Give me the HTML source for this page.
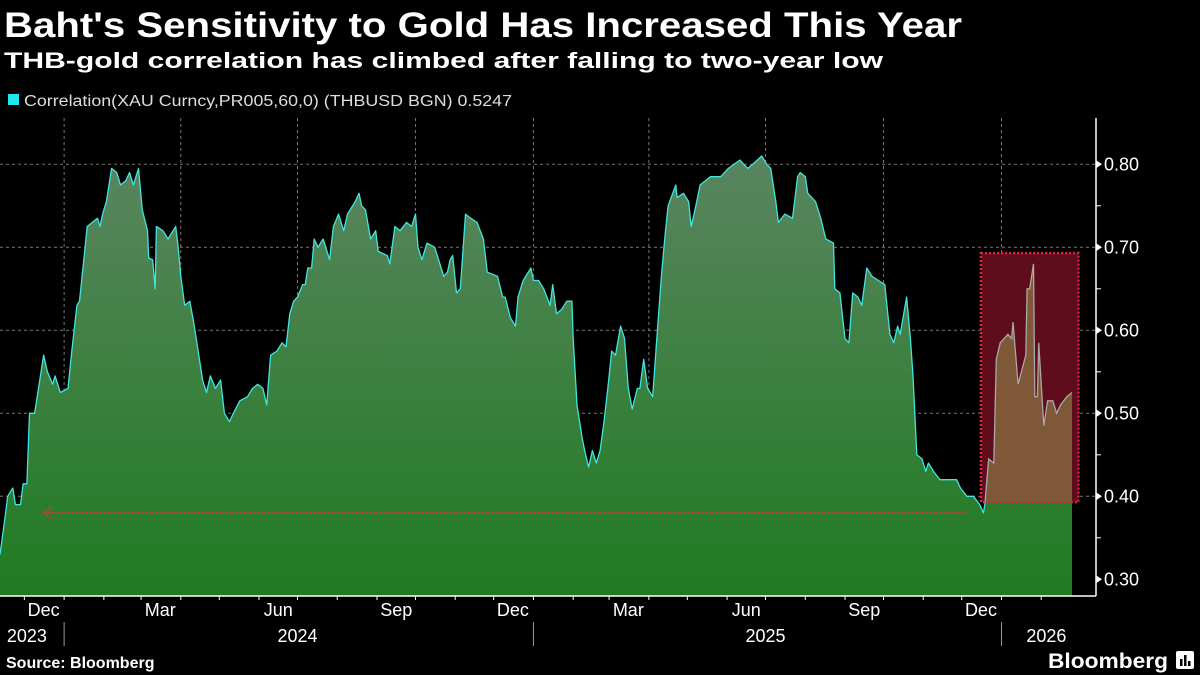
<!DOCTYPE html>
<html><head><meta charset="utf-8">
<style>
html,body{margin:0;padding:0;background:#000;}
svg{display:block;font-family:"Liberation Sans",sans-serif;}
</style></head>
<body>
<svg id="chart" width="1200" height="675" viewBox="0 0 1200 675">
<defs>
<linearGradient id="gfill" x1="0" y1="155" x2="0" y2="595" gradientUnits="userSpaceOnUse">
<stop offset="0" stop-color="#5a8560"/><stop offset="1" stop-color="#1f7b21"/>
</linearGradient>
<clipPath id="boxclip"><rect x="981" y="0" width="97" height="502"/></clipPath>
</defs>
<text x="4" y="37" fill="#fff" font-size="35" font-weight="bold" textLength="958" lengthAdjust="spacingAndGlyphs">Baht's Sensitivity to Gold Has Increased This Year</text>
<text x="4" y="68" fill="#fff" font-size="22" font-weight="bold" textLength="879" lengthAdjust="spacingAndGlyphs">THB-gold correlation has climbed after falling to two-year low</text>
<g>
<rect x="8" y="94" width="11" height="11" fill="#1de8ee"/>
<text x="24" y="106" fill="#ddd" font-size="15.5" textLength="488" lengthAdjust="spacingAndGlyphs">Correlation(XAU Curncy,PR005,60,0) (THBUSD BGN) 0.5247</text>
</g>
<g id="grid"></g>
<g id="plot"></g>
<g id="axes"></g>
<text x="6" y="668" fill="#fff" font-size="16" font-weight="bold">Source: Bloomberg</text>
<text x="1048" y="668" fill="#fff" font-size="21" font-weight="bold" textLength="120" lengthAdjust="spacingAndGlyphs">Bloomberg</text>
<g>
<rect x="1176" y="651" width="18" height="18" rx="2" fill="#fff"/>
<rect x="1180" y="659" width="2.5" height="7" fill="#000"/><rect x="1184" y="655" width="2.5" height="11" fill="#000"/><rect x="1188" y="661" width="2.5" height="5" fill="#000"/>
</g>
</svg>
<script>
// days since 2023-11-12
const days = [0,4,6,10,12,16,18,21,23,27,30,34,37,41,43,47,53,56,60,62,68,72,76,78,80,83,87,91,94,98,101,104,108,111,115,116,119,121,122,127,131,137,139,141,144,148,151,154,158,161,164,168,172,175,179,182,187,193,197,201,205,208,211,216,220,223,226,229,232,236,238,240,243,245,248,252,257,260,264,268,271,277,280,282,285,289,293,295,302,304,308,312,317,321,324,326,329,333,339,346,349,351,353,356,359,363,367,372,377,380,388,392,394,398,402,404,408,414,416,420,424,429,431,434,438,442,446,447,450,454,456,459,462,465,468,471,474,477,480,484,487,490,493,497,499,502,505,509,512,516,519,521,527,528,533,537,539,542,546,554,562,568,577,583,587,594,598,601,605,607,612,618,622,624,628,630,636,640,644,650,651,655,659,662,665,669,672,676,680,685,690,694,697,700,702,707,710,712,715,719,722,724,728,733,739,746,749,754,759,764,767,768,771,775,777,780,786,789,790,794,800,801,803,806,807,809,810,814,817,821,824,827,832,836];
const values = [0.33,0.375,0.40,0.41,0.39,0.39,0.415,0.415,0.50,0.50,0.53,0.57,0.55,0.535,0.545,0.525,0.53,0.575,0.63,0.635,0.725,0.73,0.735,0.725,0.74,0.755,0.795,0.79,0.775,0.78,0.79,0.775,0.795,0.745,0.72,0.687,0.685,0.65,0.725,0.72,0.71,0.725,0.70,0.665,0.63,0.635,0.61,0.58,0.54,0.525,0.545,0.53,0.54,0.50,0.49,0.50,0.515,0.52,0.53,0.535,0.53,0.51,0.57,0.575,0.585,0.58,0.62,0.635,0.64,0.655,0.655,0.675,0.675,0.71,0.70,0.71,0.685,0.725,0.74,0.72,0.74,0.755,0.765,0.75,0.745,0.71,0.72,0.695,0.69,0.68,0.725,0.72,0.73,0.725,0.74,0.70,0.685,0.705,0.70,0.665,0.67,0.685,0.69,0.645,0.65,0.74,0.735,0.73,0.71,0.67,0.665,0.64,0.64,0.615,0.605,0.64,0.66,0.675,0.66,0.66,0.65,0.63,0.655,0.62,0.625,0.635,0.635,0.59,0.51,0.47,0.455,0.435,0.455,0.44,0.455,0.49,0.53,0.575,0.57,0.605,0.59,0.53,0.505,0.53,0.53,0.565,0.53,0.52,0.585,0.67,0.72,0.75,0.775,0.76,0.765,0.755,0.725,0.745,0.775,0.785,0.785,0.795,0.805,0.795,0.80,0.81,0.80,0.795,0.755,0.73,0.74,0.735,0.785,0.79,0.785,0.765,0.755,0.735,0.71,0.705,0.65,0.645,0.59,0.585,0.645,0.64,0.63,0.675,0.665,0.66,0.655,0.595,0.585,0.605,0.595,0.64,0.59,0.545,0.45,0.445,0.43,0.44,0.43,0.42,0.42,0.42,0.41,0.40,0.40,0.39,0.38,0.39,0.445,0.44,0.565,0.585,0.595,0.59,0.61,0.535,0.57,0.65,0.65,0.68,0.52,0.52,0.585,0.485,0.515,0.515,0.50,0.51,0.52,0.525];
const yTicks = [0.30,0.40,0.50,0.60,0.70,0.80];
const yTickLabels = ["0.30","0.40","0.50","0.60","0.70","0.80"];
const monthLabels = ["Dec","Mar","Jun","Sep","Dec","Mar","Jun","Sep","Dec"];
const monthLabelDays = [34,125,217,309,400,490,582,674,765];
const yearLabels = ["2023","2024","2025","2026"];
const yearLabelDays = [21,232,597,816];
const yearSepDays = [50,416,781];
const quarterGridDays = [50,141,232,324,416,506,597,689,781];
const monthTickDays = [-11,19,50,81,110,141,171,202,232,263,294,324,355,385,416,447,475,506,536,567,597,628,659,689,720,750,781,812];
const boxTop = 0.693, boxBottom = 0.393, boxStartDay = 765, boxEndDay = 841;
const refLevel = 0.38, refStartDay = 34, refEndDay = 753;

const NS="http://www.w3.org/2000/svg";
const X = d => d*1.2823;
const Y = v => 579.3 - (v-0.3)*830;
function mk(tag, attrs, parent){const e=document.createElementNS(NS,tag);for(const k in attrs)e.setAttribute(k,attrs[k]);parent.appendChild(e);return e;}
const grid=document.getElementById('grid'), plot=document.getElementById('plot'), axes=document.getElementById('axes');

yTicks.forEach(v=>{ if(v>0.3){ const l=mk('line',{x1:0,x2:1096,y1:Y(v),y2:Y(v),stroke:'#777','stroke-width':1,'stroke-dasharray':'3,3'},grid);

 }});
quarterGridDays.forEach(d=>{ const l=mk('line',{x1:X(d),x2:X(d),y1:118,y2:596,stroke:'#777','stroke-width':1,'stroke-dasharray':'3,3'},grid);

 });

let pts = days.map((d,i)=>X(d).toFixed(1)+','+Y(values[i]).toFixed(1));
const lastX = X(days[days.length-1]);
const areaD = 'M0,596 L'+pts.join(' L')+' L'+lastX.toFixed(1)+',596 Z';
const area=mk('path',{d:areaD,fill:'url(#gfill)'},plot);


const line=mk('polyline',{points:pts.join(' '),fill:'none',stroke:'#3fe6e0','stroke-width':1.3,'stroke-linejoin':'round'},plot);



const bx=X(boxStartDay), bw=X(boxEndDay)-bx, by=Y(boxTop), bh=Y(boxBottom)-Y(boxTop);
const cr=document.querySelector('#boxclip rect');
cr.setAttribute('x',bx); cr.setAttribute('width',bw); cr.setAttribute('y',by); cr.setAttribute('height',bh);
const boxBg=mk('rect',{x:bx,y:by,width:bw,height:bh,fill:'#5f0c1c'},plot);


const ba=mk('path',{d:areaD,fill:'#7f5937','clip-path':'url(#boxclip)'},plot);


const bl=mk('polyline',{points:pts.join(' '),fill:'none',stroke:'#a8a8a8','stroke-width':1.3,'clip-path':'url(#boxclip)'},plot);


const bb=mk('rect',{x:bx,y:by,width:bw,height:bh,fill:'none',stroke:'#e8203c','stroke-width':2.5,'stroke-dasharray':'2,2'},plot);



const ry=Y(refLevel);
const rl=mk('line',{x1:X(refStartDay),x2:X(refEndDay),y1:ry,y2:ry,stroke:'#d03a30','stroke-width':2,'stroke-dasharray':'2,1.5'},plot);


const ah=mk('path',{d:`M${X(refStartDay)+9},${ry-6} L${X(refStartDay)},${ry} L${X(refStartDay)+9},${ry+6}`,fill:'none',stroke:'#d03a30','stroke-width':2,'stroke-dasharray':'2,1.5'},plot);



const ya=mk('line',{x1:1096,x2:1096,y1:118,y2:596,stroke:'#fff','stroke-width':1.5},axes);


yTicks.forEach((v,i)=>{
  const t=mk('path',{d:`M1096,${Y(v)-4} L1102,${Y(v)} L1096,${Y(v)+4} Z`,fill:'#fff'},axes);
  
  
  const tx=mk('text',{x:1104,y:Y(v)+6,fill:'#fff','font-size':18},axes);
  tx.textContent=yTickLabels[i];
  
  
  if(i<yTicks.length-1){const m=mk('line',{x1:1096,x2:1101,y1:Y(v+0.05),y2:Y(v+0.05),stroke:'#fff','stroke-width':1},axes);
  
  }
});
const xa=mk('line',{x1:0,x2:1096,y1:596,y2:596,stroke:'#fff','stroke-width':1.5},axes);


monthTickDays.forEach(d=>{const t=mk('line',{x1:X(d),x2:X(d),y1:596,y2:600,stroke:'#fff','stroke-width':1},axes);

});
monthLabels.forEach((m,i)=>{const t=mk('text',{x:X(monthLabelDays[i]),y:616,fill:'#fff','font-size':18,'text-anchor':'middle'},axes);
t.textContent=m;

});
yearLabels.forEach((m,i)=>{const t=mk('text',{x:X(yearLabelDays[i]),y:642,fill:'#fff','font-size':18,'text-anchor':'middle'},axes);
t.textContent=m;

});
yearSepDays.forEach(d=>{const t=mk('line',{x1:X(d),x2:X(d),y1:622,y2:646,stroke:'#999','stroke-width':1},axes);

});
</script>
</body></html>
